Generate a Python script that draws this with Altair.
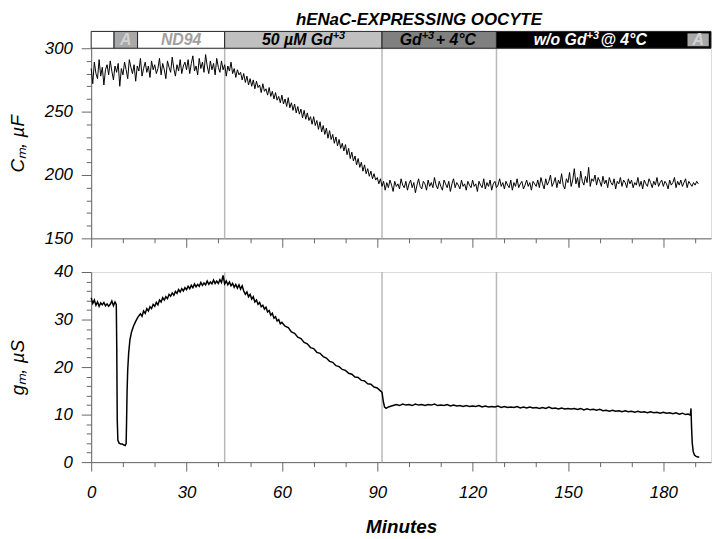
import altair as alt
import pandas as pd

FONT = "Liberation Sans"

# ---- C_m trace, sampled every 0.5 min from t = 0 (uF) ----
cm_step = 0.5
cm_values = [
    284, 272, 289, 280, 276, 291, 278, 285, 271, 283, 287, 279, 290, 282, 275, 286, 281, 288, 270, 284,
    279, 289, 283, 276, 291, 285, 280, 287, 274, 286, 282, 292, 278, 284, 289, 281, 286, 277, 290, 283,
    287, 280, 284, 292, 279, 288, 283, 276, 290, 285, 281, 293, 284, 278, 287, 282, 291, 280, 286, 289,
    283, 291, 280, 288, 294, 282, 286, 279, 292, 284, 289, 281, 295, 286, 280, 290, 283, 288, 279, 292,
    285, 281, 290, 283, 287, 278, 286, 282, 289, 280, 284, 277, 283, 279, 281, 275, 280, 273, 278, 271,
    276, 270, 275, 268, 274, 269, 271, 265, 272, 266, 268, 263, 269, 262, 266, 260, 265, 259, 262, 257,
    263, 256, 260, 254, 261, 253, 257, 251, 256, 249, 254, 248, 252, 245, 251, 244, 249, 243, 246, 240,
    246, 239, 243, 236, 242, 234, 239, 232, 237, 229, 235, 228, 232, 225, 230, 223, 228, 221, 225, 219,
    224, 216, 221, 213, 218, 211, 215, 208, 213, 206, 210, 203, 208, 201, 205, 199, 203, 197, 201, 196,
    198, 193, 197, 191, 195, 188, 194, 190, 196, 192, 187, 195, 191, 193, 189, 197, 192, 190, 195, 188,
    193, 196, 190, 194, 186, 192, 197, 191, 189, 195, 193, 188, 196, 191, 194, 190, 198, 192, 189, 195,
    191, 188, 196, 193, 190, 195, 187, 193, 197, 190, 194, 192, 189, 196, 191, 193, 188, 195, 192, 190,
    196, 191, 193, 187, 195, 192, 190, 197, 189, 194, 191, 196, 188, 193, 195, 190, 192, 197, 191, 194,
    189, 195, 192, 190, 196, 188, 194, 191, 197, 190, 193, 195, 189, 192, 196, 191, 194, 188, 195, 193,
    191, 196, 190, 198, 193, 189, 197, 192, 195, 200, 191, 194, 198, 190, 196, 193, 201, 192, 189, 197,
    194, 202, 191, 196, 205, 193, 198, 190, 203, 195, 192, 199, 194, 206, 191, 197, 195, 200, 192, 198,
    195, 191, 199, 193, 196, 190, 198, 194, 192, 197, 189, 195, 193, 198, 191, 196, 194, 190, 197, 193,
    196, 190, 194, 192, 198, 191, 195, 189, 196, 193, 191, 197, 194, 190, 195, 192, 198, 191, 194, 196,
    191, 195, 193, 189, 196, 192, 194, 198, 190, 195, 192, 196, 191, 194, 197, 190, 195, 193, 191, 194,
    192, 195, 193,
]

# ---- g_m trace (uS) ----
gm_times = [
    0, 0.5, 1, 1.5, 2, 2.5, 3, 3.5, 4, 4.5, 5, 5.5, 6, 6.5, 7, 7.5, 7.9,
    8.05, 8.2, 8.4, 8.8, 9.3, 9.8, 10.3, 10.7, 11.0, 11.15, 11.3, 11.5, 11.8, 12.2, 12.7, 13.3, 14.0, 14.7,
    15.5, 16, 16.5, 17, 17.5, 18, 18.5, 19, 19.5, 20, 20.5, 21, 21.5, 22, 22.5, 23, 23.5, 24, 24.5, 25,
    25.5, 26, 26.5, 27, 27.5, 28, 28.5, 29, 29.5, 30, 30.5, 31, 31.5, 32, 32.5, 33, 33.5, 34, 34.5, 35,
    35.5, 36, 36.5, 37, 37.5, 38, 38.5, 39, 39.5, 40, 40.5, 41, 41.5, 42, 42.5, 43, 43.5, 44, 44.5, 45,
    45.5, 46, 46.5, 47, 47.5, 48, 48.5, 49, 49.5, 50, 50.5, 51, 51.5, 52, 52.5, 53, 53.5, 54, 54.5, 55,
    55.5, 56, 56.5, 57, 57.5, 58, 58.5, 59, 59.5, 60,
    61, 62, 63, 64, 65, 66, 67, 68, 69, 70, 71, 72, 73, 74, 75, 76, 77, 78, 79, 80,
    81, 82, 83, 84, 85, 86, 87, 88, 89, 90, 91, 91.5, 91.9, 92.3, 92.8, 93.5,
    95, 96, 97, 98, 99, 100, 101, 102, 103, 104, 105, 106, 107, 108, 109, 110, 111, 112, 113, 114,
    115, 116, 117, 118, 119, 120, 121, 122, 123, 124, 125, 126, 127, 128, 129, 130, 131, 132, 133, 134,
    135, 136, 137, 138, 139, 140, 141, 142, 143, 144, 145, 146, 147, 148, 149, 150, 151, 152, 153, 154,
    155, 156, 157, 158, 159, 160, 161, 162, 163, 164, 165, 166, 167, 168, 169, 170, 171, 172, 173, 174,
    175, 176, 177, 178, 179, 180, 181, 182, 183, 184, 185, 186, 187, 187.8, 188.5,
    188.7, 188.9, 189.1, 189.4, 189.8, 190.3, 190.8, 191.3,
]
gm_values = [
    34.6, 33.4, 34.1, 33.0, 33.7, 32.8, 33.5, 33.1, 33.6, 32.9, 33.3, 32.8, 33.2, 33.9, 32.9, 33.7, 33.2,
    24.0, 9.0, 4.6, 4.0, 3.8, 3.8, 3.6, 3.5, 3.9, 9.0, 15.0, 19.5, 23.0, 25.8, 27.4, 28.6, 29.6, 30.5,
    31.2, 30.7, 31.8, 31.3, 32.3, 31.8, 32.7, 32.3, 33.2, 32.8, 33.6, 33.1, 34.1, 33.7, 34.6, 34.1, 34.8, 34.4, 35.3, 34.9,
    35.6, 35.1, 35.9, 35.5, 36.3, 35.8, 36.5, 36.0, 36.7, 36.3, 37.0, 36.5, 37.2, 36.7, 37.5, 36.9, 37.4, 37.0, 37.8, 37.2,
    37.7, 37.3, 38.1, 37.4, 37.9, 37.5, 38.3, 37.6, 38.1, 37.6, 38.4, 37.8, 39.3, 37.5, 38.1, 37.3, 37.9, 37.1, 37.6, 36.8,
    37.4, 36.6, 37.3, 36.4, 37.1, 36.0, 35.3, 35.8, 34.8, 35.3, 34.3, 34.8, 33.7, 34.1, 33.2, 33.6, 32.7, 33.0, 32.2, 32.6,
    31.6, 31.9, 30.9, 31.3, 30.3, 30.6, 29.7, 30.0, 29.1, 29.4,
    28.6, 28.3, 27.4, 27.1, 26.3, 26.0, 25.2, 24.9, 24.1, 23.9, 23.1, 22.9, 22.2, 21.9, 21.2, 21.0, 20.3, 20.1, 19.5, 19.3,
    18.7, 18.5, 17.9, 17.8, 17.2, 17.1, 16.5, 16.4, 15.8, 15.6, 15.0, 14.7, 12.8, 11.6, 11.3, 11.6,
    11.9, 12.1, 11.9, 12.2, 12.0, 12.1, 11.9, 12.2, 12.0, 12.1, 11.9, 12.1, 12.0, 12.2, 11.9, 12.0, 11.9, 12.1, 11.8, 12.0,
    11.8, 11.9, 11.7, 11.9, 11.7, 11.8, 11.7, 11.9, 11.6, 11.8, 11.6, 11.7, 11.6, 11.8, 11.5, 11.7, 11.5, 11.6, 11.5, 11.7,
    11.4, 11.6, 11.4, 11.6, 11.4, 11.5, 11.3, 11.5, 11.3, 11.6, 11.3, 11.4, 11.2, 11.4, 11.2, 11.3, 11.2, 11.3, 11.1, 11.3,
    11.0, 11.2, 11.0, 11.1, 10.9, 11.1, 10.8, 10.9, 10.7, 10.9, 10.7, 10.8, 10.6, 10.8, 10.6, 10.7, 10.5, 10.7, 10.5, 10.6,
    10.4, 10.6, 10.4, 10.5, 10.3, 10.5, 10.3, 10.4, 10.2, 10.4, 10.1, 10.3, 10.0, 10.1, 9.9,
    11.3, 7.0, 4.0, 2.2, 1.5, 1.2, 1.1, 1.1,
]

# ---- protocol bar ----
seg_start = [0, 7.2, 14.6, 42, 91.5, 127.5]
seg_end = [7.2, 14.6, 42, 91.5, 127.5, 195]
seg_fill = ["#ffffff", "#a8a8a8", "#ffffff", "#c0c0c0", "#808080", "#000000"]
a_end_start = [187.6]
a_end_end = [194.3]
a_mid = [10.9, 190.95]
nd_mid = [28.3]
gd_mid = [66.75]
cold_mid = [109.5]
wo_mid = [157.5]
boundaries = [42, 91.5, 127.5]

x_ticks = list(range(0, 191, 10))
cm_ticks = list(range(150, 301, 10))
gm_ticks = list(range(0, 41, 2))

W, H = 626, 192

cm_df = pd.DataFrame({"t": [i * cm_step for i in range(len(cm_values))], "v": cm_values})
gm_df = pd.DataFrame({"t": gm_times, "v": gm_values})
seg_df = pd.DataFrame({"s": seg_start, "e": seg_end, "f": seg_fill})
aend_df = pd.DataFrame({"s": a_end_start, "e": a_end_end})
bound_df = pd.DataFrame({"t": boundaries})

xs = alt.Scale(domain=[0, 195], nice=False, zero=False)
AX = "#666666"
NB = "\u00a0"


def x_axis(labels):
    kw = dict(
        values=x_ticks,
        tickSize={"condition": {"test": "datum.value % 30 === 0", "value": 9}, "value": 4.5},
        tickColor=AX, domainColor=AX, grid=False,
    )
    if labels:
        kw.update(
            labelExpr="datum.value % 30 === 0 ? datum.label : ''",
            labelOverlap=False, labelFlush=False, labelPadding=14,
            labelFont=FONT, labelFontSize=17, labelFontStyle="italic", labelColor="black",
            title="Minutes", titleFont=FONT, titleFontSize=19, titleFontStyle="italic",
            titleFontWeight="bold", titleColor="black", titleBaseline="alphabetic",
            titleY=71, titleX=W / 2,
        )
    else:
        kw.update(labels=False, title=None)
    return alt.Axis(**kw)


def y_axis(values, major, title):
    return alt.Axis(
        values=values,
        tickSize={"condition": {"test": f"datum.value % {major} === 0", "value": 10}, "value": 5},
        labelExpr=f"datum.value % {major} === 0 ? datum.label : ''",
        labelOverlap=False, labelPadding=9,
        labelFont=FONT, labelFontSize=17, labelFontStyle="italic", labelColor="black",
        tickColor=AX, domainColor=AX, grid=False,
        title=title, titleFont=FONT, titleFontSize=19, titleFontStyle="italic",
        titleFontWeight="normal", titleColor="black", titleAngle=270,
        titleBaseline="alphabetic", titleAlign="center", titleX=-68, titleY=H / 2,
    )


XA_TOP = x_axis(False)
XA_BOT = x_axis(True)


def rules(xa):
    return alt.Chart(bound_df).mark_rule(color="#b8b8b8", strokeWidth=1.5).encode(
        x=alt.X("t:Q", scale=xs, axis=xa)
    )


def band_text(mid, text, color, dx=0, dy=0, size=16, align="center"):
    return alt.Chart(pd.DataFrame({"t": mid, "s": [text] * len(mid)})).mark_text(
        align=align, baseline="alphabetic", dx=dx, dy=dy, font=FONT, fontSize=size,
        fontStyle="italic", fontWeight="bold", color=color,
    ).encode(x=alt.X("t:Q", scale=xs, axis=XA_TOP), y=alt.value(-3), text="s:N")


band = alt.Chart(seg_df).mark_rect(stroke="#222222", strokeWidth=1).encode(
    x=alt.X("s:Q", scale=xs, axis=XA_TOP), x2="e:Q",
    y=alt.value(-17), y2=alt.value(0),
    color=alt.Color("f:N", scale=None),
)
a_end = alt.Chart(aend_df).mark_rect(color="#a8a8a8").encode(
    x=alt.X("s:Q", scale=xs, axis=XA_TOP), x2="e:Q",
    y=alt.value(-15), y2=alt.value(-2),
)

texts = [
    band_text(a_mid, "A", "#d2d2d2"),
    band_text(nd_mid, "ND94", "#a0a0a0"),
    band_text(gd_mid, "50 µM Gd", "black", dx=29.7, align="right"),
    band_text(gd_mid, "+3", "black", dx=29.7, dy=-6, size=11, align="left"),
    band_text(cold_mid, "Gd", "black", dx=-17.7, align="right"),
    band_text(cold_mid, "+3", "black", dx=-17.7, dy=-6, size=11, align="left"),
    band_text(cold_mid, NB + "+ 4°C", "black", dx=-3.5, align="left"),
    band_text(wo_mid, "w/o Gd", "white", dx=-5.3, align="right"),
    band_text(wo_mid, "+3", "white", dx=-5.3, dy=-6, size=11, align="left"),
    band_text(wo_mid, NB + "@ 4°C", "white", dx=8.7, align="left"),
]

cm_line = alt.Chart(cm_df).mark_line(color="black", strokeWidth=1).encode(
    x=alt.X("t:Q", scale=xs, axis=XA_TOP),
    y=alt.Y("v:Q", scale=alt.Scale(domain=[150, 300], nice=False, zero=False),
            axis=y_axis(cm_ticks, 50, "Cₘ, µF")),
)

gm_line = alt.Chart(gm_df).mark_line(color="black", strokeWidth=1.5).encode(
    x=alt.X("t:Q", scale=xs, axis=XA_BOT),
    y=alt.Y("v:Q", scale=alt.Scale(domain=[0, 40], nice=False, zero=False),
            axis=y_axis(gm_ticks, 10, "gₘ, µS")),
)

top = alt.layer(rules(XA_TOP), cm_line, band, a_end, *texts).properties(
    width=W, height=H,
    title=alt.TitleParams(
        text="hENaC-EXPRESSING OOCYTE", font=FONT, fontSize=17, fontStyle="italic",
        fontWeight="bold", color="black", anchor="middle", dx=18, offset=-12,
        baseline="alphabetic",
    ),
)
bottom = alt.layer(rules(XA_BOT), gm_line).properties(width=W, height=H)

chart = alt.vconcat(top, bottom, spacing=14).properties(
    padding={"left": 0, "top": 0, "right": 0, "bottom": 0}
).configure_view(stroke="#777777", strokeWidth=1).configure(background="white")

chart.save("out.html", embed_options={"renderer": "svg", "actions": False})
